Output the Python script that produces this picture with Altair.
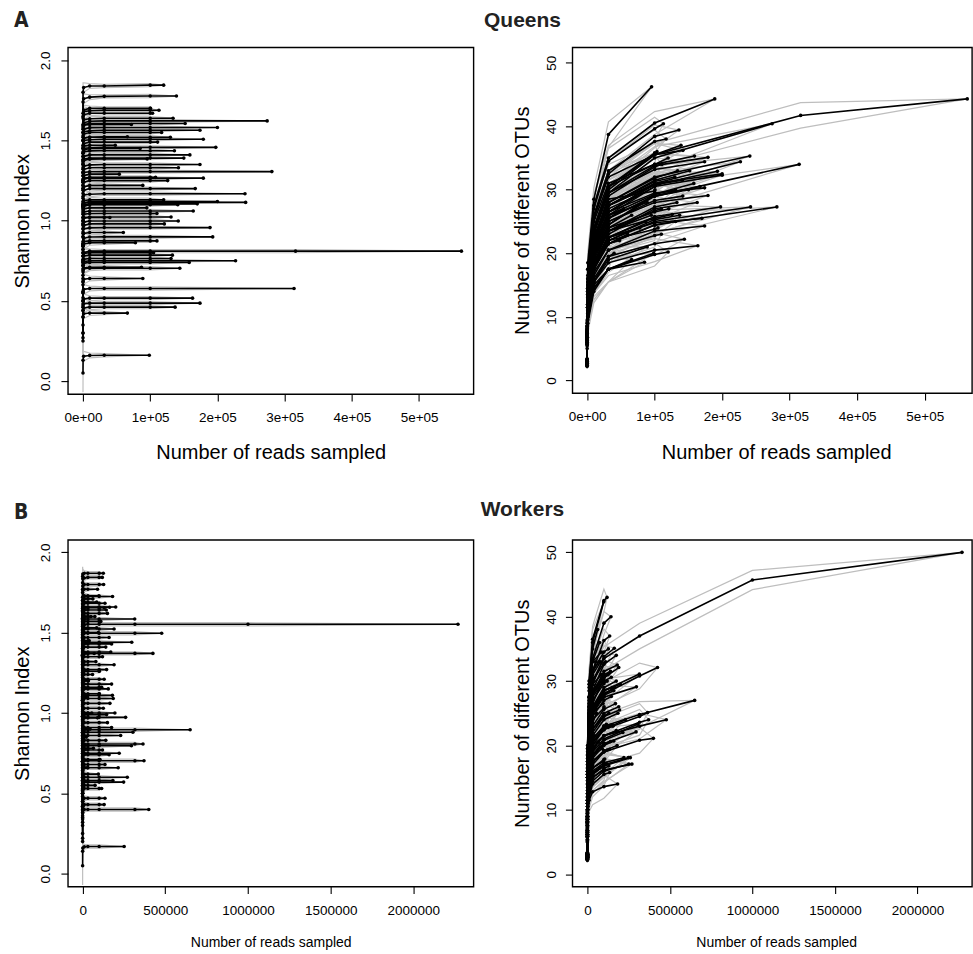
import altair as alt
import pandas as pd

# rarefaction depths (reads sampled); each curve ends at its sample's read count
DEPTHS = [10, 100, 1000, 10000, 31623, 100000, 316228, 1000000]
OTU_CI = [0.4, 1.0, 1.5, 1.8, 2.0, 1.8, 2.0, 1.5]
SH_CI = [0.12, 0.06, 0.03, 0.015, 0.01, 0.01, 0.01, 0.01]

# ---------------- Queens ----------------
q_reads = [120000, 139000, 113000, 103500, 134000, 274000, 152000, 200000, 174000, 117000,
           66000, 179000, 111000, 197600, 136000, 159000, 95500, 174000, 142000, 281000,
           54000, 179000, 126000, 89000, 167000, 241000, 242000, 200000, 170000, 141000,
           164000, 110000, 131000, 141700, 121000, 189000, 60000, 193000, 110000, 78000,
           563000, 133000, 131000, 227000, 158000, 144000, 87000, 89000, 314000, 163000,
           174000, 137000, 66000, 98600, 100500, 85000, 120000, 95000, 150000, 105000,
           72000, 48000, 40000, 130000, 108000]

q_otus = [
    [3.2, 8.5, 16, 25, 31, 34, 35], [3.1, 8.2, 15.5, 24, 30.5, 35.5, 37],
    [3.3, 9.0, 17.5, 27, 34.5, 39.6, 40.4], [3.0, 8.0, 15, 23.5, 30.5, 35.8, 36],
    [3.0, 7.6, 14, 22, 28, 31.8, 33], [3.2, 8.3, 15.5, 23.5, 29.5, 35, 40.4],
    [2.9, 7.4, 13.5, 21.5, 27.5, 31.5, 33], [2.8, 7.0, 13, 20.5, 26, 30.5, 32.3],
    [3.1, 8.0, 15, 23.5, 29.5, 33.2, 34.4], [3.2, 8.6, 16.5, 26, 33, 37.6, 38],
    [2.9, 7.5, 13.5, 20, 24, 26], [3.0, 7.8, 14.5, 23, 29.5, 33.8, 35.1],
    [2.9, 7.6, 14, 22, 29, 33.6, 34], [2.7, 6.8, 12, 18.5, 22.5, 25.8, 27.3],
    [3.1, 8.4, 16, 25.5, 32.5, 38.4, 39.4], [3.0, 8.0, 15, 24, 30.5, 34, 35.3],
    [3.4, 9.5, 18.5, 28.5, 38.7, 46.2], [2.9, 7.3, 13.5, 21, 26.5, 29.5, 30.3],
    [3.2, 8.6, 16, 25.5, 32, 35.5, 36.2], [2.6, 6.4, 11.5, 17.5, 21.5, 24.5, 27.3],
    [2.9, 7.6, 14, 21, 25.5, 27], [2.8, 7.2, 13, 20, 25, 28, 29.1],
    [2.7, 6.8, 12.5, 19.5, 23.5, 25.5, 26.1], [2.9, 7.5, 14, 21.5, 26, 28],
    [2.8, 7.0, 13, 20.5, 25.5, 29, 30.5], [3.0, 7.8, 14.5, 22.5, 28, 32, 35.3],
    [2.6, 6.5, 11.5, 18, 22, 25, 27.3], [2.9, 7.4, 14, 22, 27.5, 31, 32.5],
    [2.7, 6.6, 12, 18.5, 22.5, 24.8, 25.5], [2.8, 7.2, 13.5, 21.5, 27.5, 30.8, 31.5],
    [2.5, 6.0, 10.5, 15.5, 18.5, 20.5, 21.2], [2.7, 6.8, 12.5, 19, 23.5, 26.7, 27],
    [2.8, 7.0, 13, 20.5, 26, 29.3, 30], [2.7, 6.9, 12.8, 20, 25, 28.3, 29],
    [2.7, 6.7, 12.5, 19.5, 24, 26.5, 27], [3.3, 9.2, 17.5, 27.5, 35, 40.5, 44.3],
    [2.6, 6.4, 12, 18.5, 21.5, 23], [2.8, 7.2, 13.5, 21, 26.5, 30.8, 32.9],
    [2.5, 6.0, 11, 17, 20.5, 22.8, 23], [2.6, 6.4, 12, 18.5, 22.5, 24],
    [3.0, 7.8, 15, 23.5, 30, 35.5, 41.7, 44.3], [2.6, 6.4, 12, 18.5, 23.5, 27.3, 28],
    [2.5, 6.2, 11.5, 17.5, 21.5, 24.4, 25], [2.8, 7.2, 13.5, 21, 26.5, 31, 34.4],
    [2.7, 6.8, 12.5, 19.5, 24.5, 29.3, 31], [2.4, 5.8, 10.5, 16, 19.5, 21.5, 22.2],
    [2.5, 6.2, 11.5, 18, 22.5, 25], [2.4, 5.7, 10, 15.5, 19, 21],
    [2.7, 6.8, 12.5, 19.5, 24.5, 29, 34], [2.6, 6.3, 11.5, 18, 23, 27, 28],
    [2.5, 6.0, 10.5, 16.5, 20.5, 23.5, 24.3], [2.6, 6.3, 11.5, 17.5, 22, 25.3, 26],
    [2.3, 5.4, 9.5, 14.5, 17.5, 19], [2.2, 5.0, 9, 14, 17.5, 20],
    [3.0, 7.8, 14.5, 22.5, 28.5, 29.8, 30], [2.4, 5.8, 10.5, 15, 17.5, 18.6],
    [2.4, 5.6, 10, 14.5, 17.5, 19.8, 20.2], [2.7, 6.8, 12.5, 19.5, 23.5, 26],
    [2.8, 7.0, 13, 20.5, 25.5, 29, 30], [2.5, 6.2, 11.5, 17.5, 22, 23.8, 24],
    [2.9, 7.5, 14, 22, 27, 29], [2.7, 6.8, 12.5, 19, 21.5, 22],
    [2.4, 5.6, 10, 15.5, 19.5, 20], [2.9, 7.5, 14, 22, 27.5, 31.3, 32],
    [2.8, 7.2, 13.5, 21, 26.5, 30.5, 31],
]

q_shannon = [
    [1.55, 1.80, 1.83, 1.84, 1.84, 1.845, 1.845], [1.50, 1.74, 1.76, 1.77, 1.775, 1.777, 1.777],
    [1.42, 1.65, 1.68, 1.685, 1.688, 1.688, 1.688], [1.45, 1.64, 1.66, 1.67, 1.67, 1.67, 1.67],
    [1.38, 1.60, 1.63, 1.635, 1.639, 1.639, 1.639], [1.36, 1.59, 1.61, 1.62, 1.622, 1.622, 1.622],
    [1.35, 1.57, 1.60, 1.605, 1.606, 1.606, 1.606], [1.33, 1.55, 1.57, 1.58, 1.581, 1.581, 1.581],
    [1.30, 1.53, 1.555, 1.56, 1.564, 1.564, 1.564], [1.25, 1.52, 1.54, 1.55, 1.55, 1.55, 1.55],
    [1.28, 1.50, 1.515, 1.52, 1.523, 1.523], [1.22, 1.47, 1.50, 1.505, 1.508, 1.508, 1.508],
    [1.20, 1.46, 1.48, 1.49, 1.49, 1.49, 1.49], [1.24, 1.43, 1.45, 1.455, 1.457, 1.457, 1.457],
    [1.10, 1.40, 1.43, 1.435, 1.436, 1.436, 1.436], [1.12, 1.38, 1.40, 1.41, 1.41, 1.41, 1.41],
    [1.05, 1.35, 1.375, 1.383, 1.385, 1.385], [1.08, 1.32, 1.34, 1.348, 1.35, 1.35, 1.35],
    [1.02, 1.30, 1.32, 1.33, 1.33, 1.33, 1.33], [1.10, 1.28, 1.30, 1.305, 1.306, 1.306, 1.306],
    [1.00, 1.26, 1.28, 1.29, 1.29, 1.29], [0.98, 1.24, 1.26, 1.265, 1.265, 1.265, 1.265],
    [0.95, 1.22, 1.24, 1.25, 1.25, 1.25, 1.25], [0.92, 1.19, 1.21, 1.22, 1.22, 1.22],
    [0.90, 1.17, 1.19, 1.20, 1.20, 1.20, 1.20], [0.86, 1.14, 1.16, 1.165, 1.168, 1.168, 1.168],
    [0.85, 1.09, 1.11, 1.114, 1.114, 1.114, 1.114], [0.82, 1.09, 1.11, 1.12, 1.12, 1.12, 1.12],
    [0.80, 1.08, 1.10, 1.105, 1.105, 1.105, 1.105], [0.84, 1.07, 1.09, 1.10, 1.10, 1.10, 1.10],
    [0.82, 1.04, 1.055, 1.06, 1.06, 1.06, 1.06], [0.78, 1.02, 1.04, 1.045, 1.045, 1.045, 1.045],
    [0.75, 1.00, 1.02, 1.023, 1.023, 1.023, 1.023], [0.74, 0.97, 0.99, 0.998, 0.998, 0.998, 0.998],
    [0.72, 0.95, 0.97, 0.98, 0.98, 0.98, 0.98], [0.66, 0.93, 0.95, 0.955, 0.957, 0.957, 0.957],
    [0.70, 0.90, 0.92, 0.926, 0.926, 0.926], [0.62, 0.87, 0.89, 0.898, 0.899, 0.899, 0.899],
    [0.64, 0.85, 0.87, 0.874, 0.874, 0.874, 0.874], [0.60, 0.84, 0.855, 0.862, 0.862, 0.862],
    [0.55, 0.78, 0.80, 0.81, 0.81, 0.81, 0.81, 0.81], [0.52, 0.76, 0.78, 0.785, 0.785, 0.785, 0.785],
    [0.50, 0.74, 0.76, 0.764, 0.764, 0.764, 0.764], [0.48, 0.72, 0.745, 0.75, 0.75, 0.75, 0.75],
    [0.50, 0.72, 0.735, 0.74, 0.74, 0.74, 0.74], [0.46, 0.68, 0.70, 0.703, 0.703, 0.703, 0.703],
    [0.44, 0.69, 0.705, 0.71, 0.71, 0.71], [0.40, 0.62, 0.635, 0.64, 0.64, 0.64],
    [0.35, 0.56, 0.572, 0.577, 0.577, 0.577, 0.577], [0.30, 0.50, 0.512, 0.517, 0.517, 0.517, 0.517],
    [0.30, 0.47, 0.482, 0.486, 0.486, 0.486, 0.486], [0.27, 0.44, 0.456, 0.461, 0.461, 0.461, 0.461],
    [0.25, 0.40, 0.42, 0.424, 0.424, 0.424], [0.05, 0.13, 0.155, 0.16, 0.161, 0.161],
    [1.40, 1.67, 1.69, 1.70, 1.70, 1.70, 1.70], [1.15, 1.42, 1.44, 1.45, 1.45, 1.45],
    [0.85, 1.11, 1.125, 1.13, 1.13, 1.13, 1.13], [0.80, 1.06, 1.075, 1.08, 1.08, 1.08],
    [1.10, 1.37, 1.385, 1.39, 1.39, 1.39, 1.39], [0.55, 0.78, 0.795, 0.80, 0.80, 0.80, 0.80],
    [1.30, 1.58, 1.595, 1.60, 1.60, 1.60], [1.20, 1.45, 1.465, 1.47, 1.47, 1.47],
    [0.75, 1.00, 1.015, 1.02, 1.02, 1.02], [1.25, 1.50, 1.515, 1.52, 1.52, 1.52, 1.52],
    [0.98, 1.25, 1.265, 1.27, 1.27, 1.27, 1.27],
]

# ---------------- Workers ----------------
w_reads = [2270000, 119000, 98700, 143000, 135000, 163000, 175000, 190000, 62000, 74000,
           425000, 315000, 297000, 650000, 365000, 478000, 371000, 304000, 295000, 400000,
           260000, 251000, 221000, 215000, 183000, 127000, 181000, 85000, 131000, 150000,
           110000, 95000, 160000, 140000, 170000, 120000, 80000, 190000, 145000, 60000,
           130000, 175000, 155000, 100800, 185000, 165000, 125000, 195000, 90000, 150000,
           175000, 230000, 140000, 120000, 160000, 105000, 135000, 75000, 115000, 135000,
           130000, 50000, 40000, 35000, 28000, 55000, 45000, 22000, 65000, 30000,
           85000, 70000, 100500, 200000, 115000, 145000, 95000, 125000, 90000, 180000,
           270000, 248000]

w_otus = [
    [3.0, 8.5, 17, 25, 30, 33.5, 37, 45.7, 50], [3.4, 10, 20, 30, 36.5, 42.5, 43],
    [3.3, 9.8, 19.5, 29.5, 36, 42.3], [3.2, 9.5, 18.5, 27.5, 33.5, 39, 40],
    [3.1, 9.0, 17.5, 26, 31.5, 36.3, 37], [3.0, 8.8, 16.5, 24.5, 29.5, 33.8, 35.1],
    [3.0, 8.5, 16, 23.5, 28.5, 32.6, 34], [2.9, 8.0, 15, 22, 26.5, 30.5, 32.1],
    [3.3, 9.8, 19.5, 29, 35, 38], [3.2, 9.4, 18.5, 27.5, 33, 36],
    [2.9, 8.0, 15, 21.5, 25, 28, 30.8, 32.1], [2.9, 8.0, 15, 21.5, 25.5, 28.5, 31.1],
    [2.8, 7.8, 14.5, 21, 25, 27.5, 29.1], [2.6, 6.8, 12.5, 18, 21, 23, 24.8, 27],
    [2.6, 6.6, 12, 17.5, 20.5, 22.5, 24.5, 25.1], [2.7, 7.0, 12.5, 17.5, 20, 21.5, 23, 24],
    [2.6, 6.5, 11.5, 17, 19.5, 21.5, 23.6, 24], [2.6, 6.5, 11.5, 16.5, 19, 21, 23.3],
    [2.5, 6.2, 11, 16, 18.5, 20.3, 22.1], [2.4, 5.8, 10, 14.5, 17, 19, 20.8, 21.1],
    [2.4, 5.8, 10, 13.5, 15.5, 16.8, 18.1], [2.2, 5.2, 9, 12.5, 14.5, 16, 17.1],
    [2.4, 5.8, 10, 14, 16, 17.3, 18.1], [2.5, 6.2, 11, 16, 18.5, 20.8, 22],
    [2.2, 5.0, 8.5, 11.5, 12.8, 13.6, 14], [3.2, 9.2, 18, 26.5, 31.5, 34.5, 35],
    [3.0, 8.6, 16, 23.5, 28, 31.5, 32.5], [3.1, 9.0, 17, 25, 29.5, 31],
    [3.0, 8.6, 16, 23.5, 28, 30.8, 31.2], [3.0, 8.4, 15.5, 22, 26, 28.6, 29],
    [3.1, 8.8, 17, 25, 30, 32.8, 33], [2.9, 8.0, 15, 21.5, 25, 26.5],
    [2.8, 7.8, 14.5, 21, 25, 27.8, 28.5], [3.0, 8.5, 16, 23.5, 28.5, 31, 31.5],
    [2.7, 7.4, 13.5, 19.5, 23, 25.6, 26.5], [2.9, 8.2, 15.5, 22.5, 27, 29.6, 30],
    [3.1, 9.0, 17.5, 26, 31, 33], [2.7, 7.2, 13, 19, 22.5, 25, 26],
    [2.8, 7.6, 14, 20.5, 24.5, 27, 27.6], [2.9, 8.0, 15, 22, 25.5, 26.5],
    [2.7, 7.2, 13, 19, 22.5, 24.6, 25], [2.9, 8.0, 15, 22, 26, 29, 30],
    [2.6, 6.8, 12, 17.5, 20.5, 22.5, 23], [2.8, 7.6, 14, 20.5, 24, 25.8, 26],
    [2.7, 7.0, 12.5, 18.5, 21.5, 24, 25], [2.8, 7.6, 14, 21, 25, 28, 29],
    [2.6, 6.6, 12, 17.5, 20.5, 22.4, 22.8], [2.7, 7.0, 12.5, 18.5, 22, 24.5, 25.5],
    [2.5, 6.2, 11, 16, 18.5, 19.5], [2.6, 6.8, 12, 17.5, 20.5, 22.8, 23.2],
    [2.5, 6.4, 11.5, 16.5, 19.5, 21.5, 22.3], [2.6, 6.6, 12, 17, 20, 22.5, 24],
    [2.5, 6.2, 11, 16, 18.5, 20.2, 20.6], [2.4, 5.8, 10.5, 15, 17.5, 19, 19.3],
    [2.5, 6.0, 10.5, 15.5, 18, 20, 20.7], [2.4, 5.8, 10, 14.5, 16.5, 17.8, 17.9],
    [2.5, 6.0, 10.5, 15, 17.5, 19, 19.4], [2.3, 5.4, 9.5, 13.5, 15.5, 16.5],
    [2.3, 5.4, 9.5, 13.5, 15.5, 17, 17.2], [2.2, 5.0, 8.5, 12, 14, 15.5, 15.8],
    [2.2, 5.2, 9, 13, 15, 16.4, 16.8], [3.2, 9.4, 18.5, 27, 31.5, 33],
    [3.1, 9.0, 17.5, 25.5, 29.5, 30.5], [2.9, 8.2, 15.5, 22, 25, 25.5],
    [2.8, 7.8, 14.5, 20.5, 23], [2.7, 7.4, 14, 20, 23.5, 25],
    [2.6, 6.8, 12.5, 18, 20.5, 21.5], [2.5, 6.4, 11.5, 16.5, 18.5],
    [2.5, 6.4, 11.5, 16.5, 19, 20.5], [2.4, 6.0, 10.5, 15, 17],
    [3.3, 9.8, 19.5, 28.5, 33, 34.5], [3.2, 9.5, 19, 27.5, 31.5, 33],
    [3.0, 8.6, 16.5, 24, 28, 30, 30.1], [2.9, 8.2, 15, 21.5, 25.5, 28.5, 29.5],
    [2.6, 6.8, 12.5, 18, 21, 23, 23.3], [2.9, 8.2, 15.5, 23, 27.5, 30, 30.6],
    [2.4, 5.8, 10, 14.5, 16.5, 17.5], [3.1, 8.8, 16.5, 24, 28, 30.5, 31],
    [3.0, 8.4, 15.5, 22.5, 26, 27.5], [2.5, 6.2, 11, 15.5, 17.5, 19.2, 20],
    [2.4, 5.8, 10, 13.5, 15, 16.2, 17.1], [2.4, 5.8, 10, 14, 15.8, 17, 18.1],
]

w_shannon = [
    [1.25, 1.52, 1.545, 1.55, 1.552, 1.552, 1.552, 1.552, 1.552], [1.55, 1.81, 1.835, 1.84, 1.844, 1.844, 1.844],
    [1.45, 1.70, 1.72, 1.73, 1.73, 1.73], [1.35, 1.61, 1.635, 1.64, 1.641, 1.641, 1.641],
    [1.40, 1.65, 1.675, 1.683, 1.683, 1.683, 1.683], [1.38, 1.63, 1.65, 1.658, 1.658, 1.658, 1.658],
    [1.15, 1.40, 1.425, 1.43, 1.43, 1.43, 1.43], [1.25, 1.50, 1.515, 1.523, 1.523, 1.523, 1.523],
    [1.40, 1.68, 1.70, 1.71, 1.71, 1.71], [1.30, 1.57, 1.59, 1.60, 1.60, 1.60],
    [1.10, 1.35, 1.365, 1.371, 1.371, 1.371, 1.371, 1.371], [1.30, 1.56, 1.58, 1.585, 1.585, 1.585, 1.585],
    [1.15, 1.41, 1.435, 1.44, 1.44, 1.44, 1.44], [0.62, 0.87, 0.89, 0.896, 0.896, 0.896, 0.896, 0.896],
    [0.55, 0.78, 0.80, 0.807, 0.807, 0.807, 0.807, 0.807], [1.22, 1.47, 1.49, 1.496, 1.496, 1.496, 1.496, 1.496],
    [0.45, 0.68, 0.70, 0.703, 0.703, 0.703, 0.703, 0.703], [0.60, 0.86, 0.875, 0.88, 0.88, 0.88, 0.88],
    [0.52, 0.77, 0.79, 0.796, 0.796, 0.796, 0.796], [0.20, 0.38, 0.395, 0.40, 0.40, 0.40, 0.40, 0.40],
    [0.70, 0.95, 0.97, 0.973, 0.973, 0.973, 0.973], [0.05, 0.14, 0.16, 0.168, 0.169, 0.169, 0.169],
    [0.50, 0.73, 0.745, 0.75, 0.75, 0.75, 0.75], [0.42, 0.64, 0.655, 0.659, 0.659, 0.659, 0.659],
    [0.35, 0.56, 0.575, 0.58, 0.58, 0.58, 0.58], [1.50, 1.77, 1.79, 1.80, 1.80, 1.80, 1.80],
    [1.45, 1.70, 1.72, 1.725, 1.725, 1.725, 1.725], [1.40, 1.66, 1.68, 1.69, 1.69, 1.69],
    [1.36, 1.63, 1.65, 1.655, 1.655, 1.655, 1.655], [1.32, 1.59, 1.61, 1.62, 1.62, 1.62, 1.62],
    [1.28, 1.54, 1.56, 1.57, 1.57, 1.57, 1.57], [1.20, 1.47, 1.49, 1.50, 1.50, 1.50],
    [1.18, 1.45, 1.465, 1.47, 1.47, 1.47, 1.47], [1.10, 1.38, 1.40, 1.41, 1.41, 1.41, 1.41],
    [1.08, 1.36, 1.375, 1.38, 1.38, 1.38, 1.38], [1.05, 1.33, 1.345, 1.35, 1.35, 1.35, 1.35],
    [1.02, 1.30, 1.315, 1.32, 1.32, 1.32], [1.00, 1.28, 1.295, 1.30, 1.30, 1.30, 1.30],
    [0.98, 1.25, 1.265, 1.27, 1.27, 1.27, 1.27], [0.95, 1.22, 1.235, 1.24, 1.24, 1.24],
    [0.92, 1.19, 1.205, 1.21, 1.21, 1.21, 1.21], [0.88, 1.16, 1.175, 1.18, 1.18, 1.18, 1.18],
    [0.86, 1.13, 1.145, 1.15, 1.15, 1.15, 1.15], [0.84, 1.10, 1.115, 1.12, 1.12, 1.12, 1.12],
    [0.80, 1.07, 1.085, 1.09, 1.09, 1.09, 1.09], [0.78, 1.04, 1.055, 1.06, 1.06, 1.06, 1.06],
    [0.75, 1.01, 1.025, 1.03, 1.03, 1.03, 1.03], [0.72, 0.98, 0.995, 1.00, 1.00, 1.00, 1.00],
    [0.70, 0.95, 0.965, 0.97, 0.97, 0.97], [0.66, 0.92, 0.935, 0.94, 0.94, 0.94, 0.94],
    [0.64, 0.89, 0.905, 0.91, 0.91, 0.91, 0.91], [0.58, 0.84, 0.855, 0.86, 0.86, 0.86, 0.86],
    [0.56, 0.81, 0.825, 0.83, 0.83, 0.83, 0.83], [0.50, 0.75, 0.765, 0.77, 0.77, 0.77, 0.77],
    [0.48, 0.72, 0.735, 0.74, 0.74, 0.74, 0.74], [0.45, 0.69, 0.705, 0.71, 0.71, 0.71, 0.71],
    [0.42, 0.66, 0.675, 0.68, 0.68, 0.68, 0.68], [0.32, 0.53, 0.545, 0.55, 0.55, 0.55],
    [0.30, 0.51, 0.525, 0.53, 0.53, 0.53, 0.53], [0.25, 0.45, 0.465, 0.47, 0.47, 0.47, 0.47],
    [0.22, 0.41, 0.425, 0.43, 0.43, 0.43, 0.43], [1.30, 1.58, 1.595, 1.60, 1.60, 1.60],
    [1.15, 1.43, 1.445, 1.45, 1.45, 1.45], [0.90, 1.18, 1.195, 1.20, 1.20, 1.20],
    [0.82, 1.08, 1.095, 1.10, 1.10], [0.72, 0.98, 0.995, 1.00, 1.00, 1.00],
    [0.62, 0.88, 0.895, 0.90, 0.90, 0.90], [0.58, 0.83, 0.845, 0.85, 0.85],
    [0.50, 0.76, 0.775, 0.78, 0.78, 0.78], [0.40, 0.64, 0.655, 0.66, 0.66],
    [1.25, 1.51, 1.525, 1.53, 1.53, 1.53], [1.08, 1.35, 1.365, 1.37, 1.37, 1.37],
    [0.96, 1.24, 1.255, 1.26, 1.26, 1.26, 1.26], [1.36, 1.64, 1.655, 1.66, 1.66, 1.66, 1.66],
    [0.88, 1.14, 1.155, 1.16, 1.16, 1.16, 1.16], [0.70, 0.97, 0.985, 0.99, 0.99, 0.99, 0.99],
    [0.38, 0.60, 0.615, 0.62, 0.62, 0.62], [1.58, 1.85, 1.865, 1.87, 1.87, 1.87, 1.87],
    [1.48, 1.75, 1.765, 1.77, 1.77, 1.77], [0.84, 1.09, 1.105, 1.11, 1.11, 1.11, 1.11],
    [0.36, 0.58, 0.595, 0.60, 0.60, 0.60, 0.60], [0.34, 0.55, 0.565, 0.57, 0.57, 0.57, 0.57],
]

FONT = "Liberation Sans, Arial, Helvetica, sans-serif"
NARROW = "Liberation Sans Narrow, DejaVu Sans Condensed, Arial Narrow, sans-serif"


def build(reads, series, ci):
    rows = []
    for i, (n, vals) in enumerate(zip(reads, series)):
        xs = [d for d in DEPTHS if d < n] + [n]
        for j, (x, v) in enumerate(zip(xs, vals)):
            c = 0.0 if x == n else ci[j]
            rows.append({"sample": i, "step": j, "reads": x, "value": v,
                         "lo": v - c, "hi": v + c})
    return pd.DataFrame(rows)


one = pd.DataFrame({"k": [0]})


def panel(df, w, h, xdom, ydom, xticks, xexpr, xfmt, yticks, yfmt,
          xtitle, xtsize, xty, xtx, xlpad, ytitle, ytx, ylpad, extra=None):
    xkw = dict(values=xticks, title=xtitle, titleFontSize=xtsize, titleY=xty, titleX=xtx,
               titleAlign="center", titleBaseline="alphabetic", labelPadding=xlpad,
               labelBaseline="top", labelAlign="center", labelFlush=False, labelOverlap=False)
    if xexpr:
        xkw["labelExpr"] = xexpr
    else:
        xkw["format"] = xfmt
    xaxis = alt.Axis(**xkw)
    yaxis = alt.Axis(values=yticks, format=yfmt, title=ytitle, titleFontSize=20,
                     titleX=ytx, titleY=h / 2, titleAlign="center", titleBaseline="alphabetic",
                     titleAngle=270, labelAngle=270, labelAlign="center",
                     labelBaseline="alphabetic", labelPadding=ylpad, labelFlush=False,
                     labelOverlap=False)
    xs = alt.Scale(domain=xdom, nice=False, zero=False)
    ys = alt.Scale(domain=ydom, nice=False, zero=False)
    X = alt.X("reads:Q", scale=xs, axis=xaxis)

    def Y(f):
        return alt.Y(f + ":Q", scale=ys, axis=yaxis)

    base = alt.Chart(df)
    lo = base.mark_line(color="#bebebe", strokeWidth=1.2, clip=True).encode(
        x=X, y=Y("lo"), detail="sample:N", order="step:Q")
    hi = base.mark_line(color="#bebebe", strokeWidth=1.2, clip=True).encode(
        x=X, y=Y("hi"), detail="sample:N", order="step:Q")
    ln = base.mark_line(color="black", strokeWidth=1.6, clip=True).encode(
        x=X, y=Y("value"), detail="sample:N", order="step:Q")
    pt = base.mark_circle(color="black", size=13, opacity=1, clip=True).encode(
        x=X, y=Y("value"))
    layers = [lo, hi, ln, pt]
    if extra:
        layers += extra
    return alt.layer(*layers).properties(width=w, height=h)


def label(text, x, y, size, font, align="left"):
    return alt.Chart(one).mark_text(text=text, font=font, fontSize=size, fontWeight="bold",
                                    align=align, baseline="alphabetic", color="#222222").encode(
        x=alt.value(x), y=alt.value(y))


anchor = alt.Chart(one).mark_rule(opacity=0, strokeWidth=1).encode(
    x=alt.value(-67), x2=alt.value(-67), y=alt.value(-46), y2=alt.value(-45))

q_sh = build(q_reads, q_shannon, SH_CI)
q_ot = build(q_reads, q_otus, OTU_CI)
w_sh = build(w_reads, w_shannon, SH_CI)
w_ot = build(w_reads, w_otus, OTU_CI)

SCI = "datum.value == 0 ? '0e+00' : format(datum.value / 100000, 'd') + 'e+05'"
XT_TOP = [0, 100000, 200000, 300000, 400000, 500000]
XT_BOT = [0, 500000, 1000000, 1500000, 2000000]
YT_SH = [0, 0.5, 1.0, 1.5, 2.0]
YT_OT = [0, 10, 20, 30, 40, 50]

tl = panel(q_sh, 406, 347, [-22400, 581000], [-0.081, 2.08], XT_TOP, SCI, None, YT_SH, ".1f",
           "Number of reads sampled", 20, 64, 203, 9, "Shannon Index", -39, 11,
           extra=[anchor, label("A", -54, -20, 21, NARROW),
                  label("Queens", 455, -20, 21, FONT, "center")])
tr = panel(q_ot, 400, 346, [-21750, 570000], [-2.0, 52.4], XT_TOP, SCI, None, YT_OT, "d",
           "Number of reads sampled", 20, 65, 204, 9, "Number of different OTUs", -44, 10)
bl = panel(w_sh, 406, 347, [-88900, 2364000], [-0.08, 2.077], XT_BOT, None, "d", YT_SH, ".1f",
           "Number of reads sampled", 14, 60, 203, 10, "Shannon Index", -39, 11,
           extra=[label("B", -54, -21, 21, NARROW),
                  label("Workers", 455, -24, 21, FONT, "center")])
br = panel(w_ot, 400, 347, [-90800, 2330500], [-1.93, 51.93], XT_BOT, None, "d", YT_OT, "d",
           "Number of reads sampled", 14, 60, 204, 10, "Number of different OTUs", -44, 10)

chart = alt.concat(tl, tr, bl, br, columns=2, spacing={"row": 146, "column": 99},
                   bounds="flush", padding=0, background="white").configure_view(
    stroke="black", strokeWidth=1.4).configure_axis(
    grid=False, domain=False, tickColor="black", tickSize=7, tickWidth=1.1,
    labelColor="black", titleColor="black", labelFont=FONT, titleFont=FONT,
    titleFontWeight="normal", labelFontSize=13.5)

chart.save("out.html", embed_options={"renderer": "svg", "actions": False})
